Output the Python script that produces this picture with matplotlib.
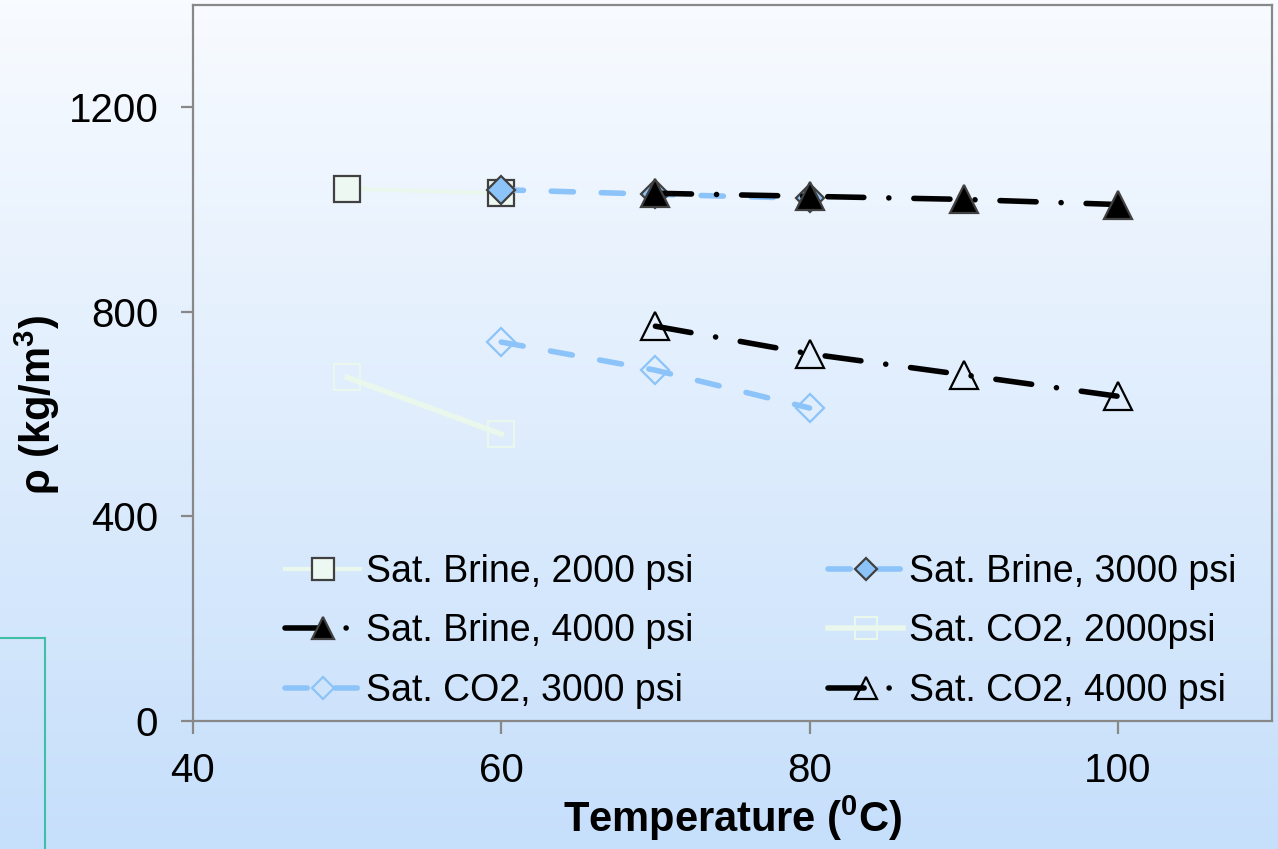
import numpy as np
import matplotlib
matplotlib.use("Agg")
import matplotlib.pyplot as plt
from matplotlib.patches import Rectangle

plt.rcParams['font.family'] = ['Liberation Sans', 'DejaVu Sans']
plt.rcParams['mathtext.default'] = 'regular'

# data (temperature in C, density in kg/m3)
t_brine_2000 = [50, 60]
rho_brine_2000 = [1041, 1032]
t_brine_3000 = [60, 70, 80]
rho_brine_3000 = [1039, 1030, 1022]
t_brine_4000 = [70, 80, 90, 100]
rho_brine_4000 = [1032, 1026, 1020, 1010]
t_co2_2000 = [50, 60]
rho_co2_2000 = [672, 561]
t_co2_3000 = [60, 70, 80]
rho_co2_3000 = [741, 686, 612]
t_co2_4000 = [70, 80, 90, 100]
rho_co2_4000 = [772, 718, 677, 635]

mint = '#e9f7ec'
blue = '#8cc4fa'
edge = '#404040'

fig = plt.figure(figsize=(12.78, 8.49), dpi=100)

# gradient background
bg = fig.add_axes([0, 0, 1, 1], zorder=-10)
top = np.array([0xf8, 0xfb, 0xff]) / 255
bot = np.array([0xc6, 0xdf, 0xfb]) / 255
f = np.linspace(0, 1, 256)[:, None]
grad = top[None, :] * (1 - f) + bot[None, :] * f
bg.imshow(grad[:, None, :], aspect='auto', extent=[0, 1, 0, 1])
bg.set_axis_off()

# stray frame in the lower-left corner
fig.patches.append(Rectangle((-0.01, -0.01), 0.0455, 0.2585, transform=fig.transFigure,
                             fill=False, edgecolor='#3fbfa5', linewidth=1.5))

ax = fig.add_axes([0.151, 0.1508, 0.8443, 0.8432])
ax.set_facecolor('none')

ax.plot(t_brine_2000, rho_brine_2000, color=mint, lw=3, marker='s', ms=19,
        mfc='#edf8f2', mec=edge, mew=1.6, label='Sat. Brine, 2000 psi', zorder=3)
ax.plot(t_co2_2000, rho_co2_2000, color=mint, lw=4, marker='s', ms=19,
        mfc='none', mec=mint, mew=1.6, label='Sat. CO2, 2000psi', zorder=3)
ax.plot(t_brine_3000, rho_brine_3000, color=blue, lw=4, ls=(0, (4, 5)),
        dash_capstyle='round', marker='D', ms=14, mfc=blue, mec=edge, mew=1.6,
        label='Sat. Brine, 3000 psi', zorder=4)
ax.plot(t_co2_3000, rho_co2_3000, color=blue, lw=4, ls=(0, (4, 5)),
        dash_capstyle='round', marker='D', ms=14, mfc='none', mec=blue, mew=1.6,
        label='Sat. CO2, 3000 psi', zorder=4)
ax.plot(t_brine_4000, rho_brine_4000, color='black', lw=4, ls=(0, (6.5, 4.5, 0.01, 4.5)),
        dash_capstyle='round', marker='^', ms=20, mfc='black', mec=edge, mew=1.6,
        label='Sat. Brine, 4000 psi', zorder=5)
ax.plot(t_co2_4000, rho_co2_4000, color='black', lw=4, ls=(0, (6.5, 4.5, 0.01, 4.5)),
        dash_capstyle='round', marker='^', ms=20, mfc='none', mec='black', mew=1.6,
        label='Sat. CO2, 4000 psi', zorder=5)

ax.set_xlim(40, 110)
ax.set_ylim(0, 1400)
ax.set_xticks([40, 60, 80, 100])
ax.set_yticks([0, 400, 800, 1200])

for s in ax.spines.values():
    s.set_color('#888888')
    s.set_linewidth(1.6)
ax.tick_params(axis='both', direction='out', length=9, width=1.6, color='#888888',
               labelsize=29)
ax.tick_params(axis='y', pad=16)
ax.tick_params(axis='x', pad=13)

ax.set_xlabel('Temperature ($^0$C)', fontsize=30, fontweight='bold', labelpad=3)
ax.set_ylabel('ρ (kg/m$^3$)', fontsize=30, fontweight='bold')
ax.yaxis.set_label_coords(-0.121, 0.441)

h, l = ax.get_legend_handles_labels()
order = [0, 4, 3, 2, 1, 5]
ax.legend([h[i] for i in order], [l[i] for i in order], ncol=2, frameon=False,
          loc='lower center', bbox_to_anchor=(0.526, -0.03), fontsize=27,
          numpoints=1, handlelength=2.0, handletextpad=0.15, columnspacing=3.6,
          labelspacing=0.62, markerscale=0.8)

fig.savefig('out.png', dpi=100)
